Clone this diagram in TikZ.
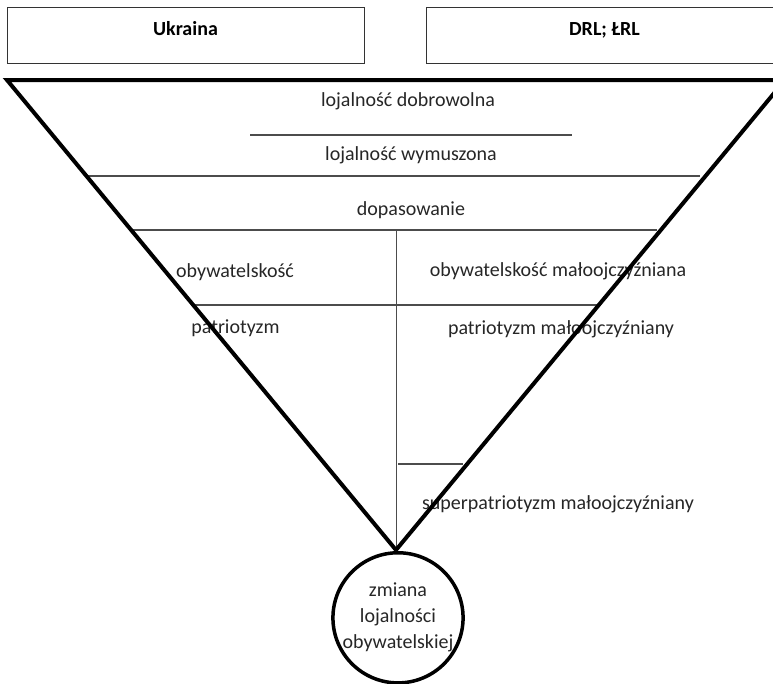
\documentclass[tikz,border=0pt]{standalone}
\usepackage{fontspec}
\setmainfont{Carlito}
\usetikzlibrary{positioning}

\begin{document}
\begin{tikzpicture}[x=1pt,y=-1pt]
       \tikzset{side/.style ={rectangle, draw=black!80, line width=1pt, minimum width=357pt, minimum height=56pt,
                inner sep=0pt, text height=13pt, text depth=13pt, font=\fontsize{20}{24}\selectfont\bfseries}}

       \tikzset{level/.style={anchor=base, inner sep=0pt, text=black!85, font=\fontsize{20}{24}\selectfont}}
        \tikzset{divider/.style={draw=black!70, line width=1.2pt}}
        \tikzset{funnel/.style={draw, line width=4pt, line join=miter}}

        \tikzset{result/.style={circle, draw, line width=3.5pt, minimum size=129pt, inner sep=0pt,
                align=center, text=black!85, font=\fontsize{20}{26}\selectfont}}

        \useasboundingbox (0,0) rectangle (773,683);

        \node[side] (ukraina) at (185.5,35) {Ukraina};
        \node[side] (drl) at (604.5,35) {DRL; ŁRL};

        \coordinate (topleft) at (7,80);
        \coordinate (topright) at (785,80);
        \coordinate (apex) at (396,550);

        \node[level] (dobrowolna) at (408,106) {lojalność dobrowolna};
        \node[level] (wymuszona) at (411,160) {lojalność wymuszona};
        \node[level] (dopasowanie) at (411,215) {dopasowanie};
        \node[level] (obyw) at (235,277) {obywatelskość};
        \node[level] (obywmal) at (558,276) {obywatelskość małoojczyźniana};
        \node[level] (patr) at (235.5,333) {patriotyzm};
        \node[level] (patrmal) at (561,334) {patriotyzm małoojczyźniany};
        \node[level] (superpatr) at (558,509) {superpatriotyzm małoojczyźniany};

        \node[result, below=1pt of apex, xshift=2pt] (zmiana) {zmiana\\lojalności\\obywatelskiej};

        % poziomy lejka
        \draw[divider] (250,135) -- (572,135);
        \draw[divider] (88,176) -- (700,176);
        \draw[divider] (133,230) -- (657,230);
        \draw[divider] (195,305) -- (597,305);
        \draw[divider] (398,464) -- (463,464);
        \draw[divider, line width=1pt] (396,230) -- (apex);

        \draw[funnel] (topleft) -- (topright) -- (apex) -- cycle;
   \end{tikzpicture}
\end{document}
